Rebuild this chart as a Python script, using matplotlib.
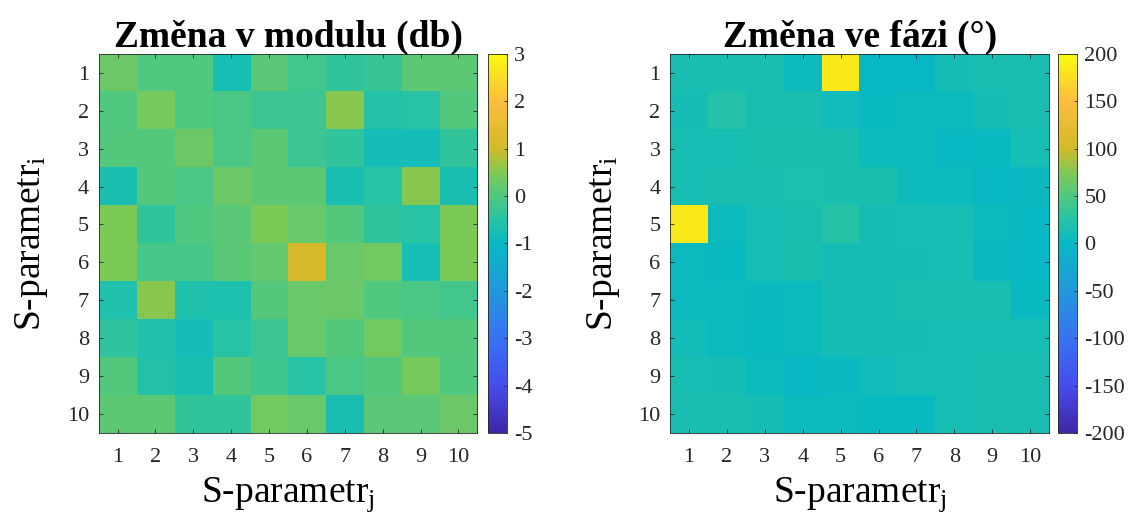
"""Heatmaps of S-parameter changes (modulus in dB, phase in degrees)."""

import numpy as np
import matplotlib
matplotlib.use("Agg")
from matplotlib import pyplot as plt
from matplotlib.colors import LinearSegmentedColormap
#--------------------------------------------------------------------------
TICKS = list(range(1, 11))

MODUL_DB = [
    [0.3, 0.0, 0.0, -0.75, 0.1, -0.15, -0.35, -0.3, 0.15, 0.15],
    [0.0, 0.4, 0.0, -0.05, -0.25, -0.25, 0.55, -0.55, -0.5, 0.05],
    [0.05, 0.05, 0.3, -0.05, 0.15, -0.25, -0.35, -0.8, -0.8, -0.35],
    [-0.7, 0.05, -0.05, 0.3, 0.15, 0.15, -0.7, -0.5, 0.55, -0.7],
    [0.45, -0.35, 0.0, 0.1, 0.45, 0.25, 0.05, -0.35, -0.5, 0.45],
    [0.45, -0.1, -0.1, 0.1, 0.2, 1.1, 0.25, 0.35, -0.75, 0.45],
    [-0.6, 0.55, -0.6, -0.65, 0.05, 0.25, 0.3, 0.0, -0.05, -0.15],
    [-0.4, -0.6, -0.8, -0.5, -0.25, 0.25, 0.05, 0.35, 0.05, 0.05],
    [0.05, -0.55, -0.7, 0.05, -0.2, -0.5, -0.05, 0.05, 0.4, 0.0],
    [0.15, 0.15, -0.35, -0.35, 0.35, 0.25, -0.7, 0.1, 0.1, 0.3],
]

FAZE_DEG = [
    [15, 15, 15, 4, 185, -3, -3, 12, 15, 15],
    [12, 22, 15, 15, 7, 0, 4, 4, 12, 15],
    [13, 13, 16, 16, 16, 5, 4, -1, 0, 14],
    [13, 15, 15, 18, 16, 17, 5, 4, -3, 2],
    [185, 4, 14, 15, 24, 12, 14, 13, 4, -1],
    [4, 0, 14, 16, 12, 12, 12, 13, 2, -2],
    [4, 4, 2, 4, 12, 12, 15, 15, 15, 0],
    [9, 4, 0, 4, 12, 12, 12, 13, 14, 14],
    [13, 12, 4, -3, 2, 7, 14, 14, 15, 15],
    [15, 15, 12, 4, 4, 0, 0, 14, 15, 15],
]
#--------------------------------------------------------------------------

# approximation of MATLAB parula
parula_pts = [
    (0.000, (0.243, 0.150, 0.660)),
    (0.125, (0.275, 0.300, 0.930)),
    (0.250, (0.220, 0.450, 0.950)),
    (0.375, (0.130, 0.600, 0.860)),
    (0.500, (0.030, 0.725, 0.765)),
    (0.5625, (0.150, 0.765, 0.650)),
    (0.625, (0.310, 0.785, 0.510)),
    (0.6875, (0.500, 0.790, 0.330)),
    (0.750, (0.820, 0.730, 0.160)),
    (0.875, (0.990, 0.740, 0.240)),
    (1.000, (0.976, 0.983, 0.054)),
]
parula = LinearSegmentedColormap.from_list("parula", parula_pts)

plt.rcParams['font.family'] = ['Liberation Serif', 'DejaVu Serif']
plt.rcParams['mathtext.fontset'] = 'custom'
plt.rcParams['mathtext.rm'] = 'Liberation Serif'
plt.rcParams['mathtext.it'] = 'Liberation Serif'
plt.rcParams['axes.unicode_minus'] = False

fig = plt.figure(figsize=(11.34, 5.28), dpi=100)

panels = [
    (MODUL_DB, "Změna v modulu (db)", (-5, 3), [-5, -4, -3, -2, -1, 0, 1, 2, 3],
     [0.087, 0.180, 0.334, 0.718], [0.430, 0.180, 0.017, 0.718]),
    (FAZE_DEG, "Změna ve fázi (°)", (-200, 200), [-200, -150, -100, -50, 0, 50, 100, 150, 200],
     [0.591, 0.180, 0.334, 0.718], [0.933, 0.180, 0.017, 0.718]),
]

for data, title, lims, cticks, rect, crect in panels:
    ax = fig.add_axes(rect)
    cax = fig.add_axes(crect)
    arr = np.array(data, dtype=float)
    im = ax.imshow(arr, cmap=parula, vmin=lims[0], vmax=lims[1],
                   extent=(0.5, 10.5, 10.5, 0.5), aspect='auto', interpolation='nearest')
    ax.set_xticks(TICKS)
    ax.set_yticks(TICKS)
    ax.tick_params(direction='in', top=True, right=True, length=3, width=0.6,
                   labelsize=16, colors='#262626')
    ax.tick_params(axis='x', pad=11)
    ax.tick_params(axis='y', pad=7)
    for s in ax.spines.values():
        s.set_color('#262626')
        s.set_linewidth(0.6)
    ax.set_title(title, fontsize=27, fontweight='bold', pad=5)
    ax.set_xlabel('S-parametr$_\\mathregular{j}$', fontsize=27, labelpad=6)
    ax.set_ylabel('S-parametr$_\\mathregular{i}$', fontsize=27, labelpad=12)

    cb = fig.colorbar(im, cax=cax, ticks=cticks)
    cb.outline.set_linewidth(0.6)
    cb.outline.set_edgecolor('#262626')
    cax.tick_params(direction='in', length=2, width=0.6, labelsize=16,
                    colors='#262626', pad=5)

fig.savefig("out.png", dpi=100)
